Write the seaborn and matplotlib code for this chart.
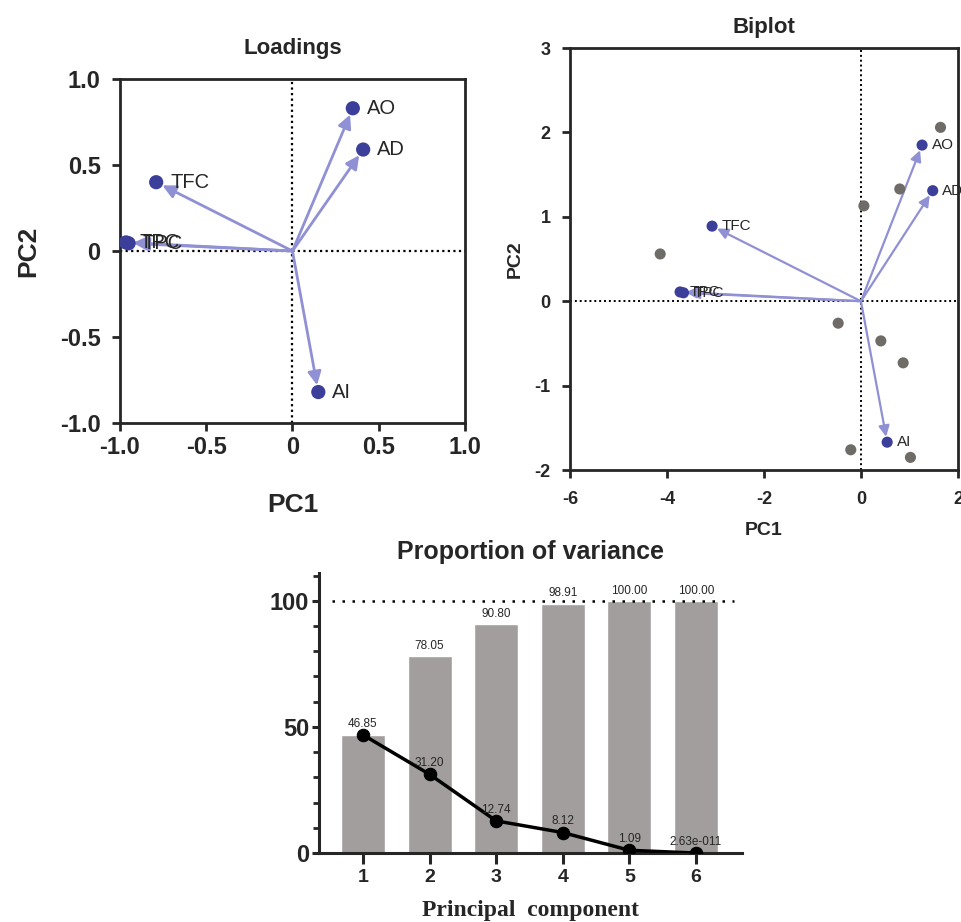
import numpy as np
import pandas as pd
import seaborn as sns
import matplotlib.pyplot as plt
from matplotlib.ticker import MultipleLocator

# variable loadings (PC1, PC2)
var_names = ["TFC", "TPC", "TPC", "AO", "AD", "AI"]
load_pc1 = [-0.79, -0.965, -0.95, 0.35, 0.41, 0.15]
load_pc2 = [0.40, 0.05, 0.045, 0.83, 0.59, -0.82]

# biplot: scaled variable vectors
bi_pc1 = [-3.07, -3.73, -3.66, 1.26, 1.48, 0.54]
bi_pc2 = [0.89, 0.11, 0.10, 1.85, 1.31, -1.67]

# biplot: sample scores
score_pc1 = [1.64, 0.80, 0.06, -4.14, -0.47, 0.41, 0.87, -0.21, 1.02]
score_pc2 = [2.06, 1.33, 1.13, 0.56, -0.26, -0.47, -0.73, -1.76, -1.85]

# proportion of variance
components = [1, 2, 3, 4, 5, 6]
cumulative = [46.85, 78.05, 90.80, 98.91, 100.00, 100.00]
individual = [46.85, 31.20, 12.74, 8.12, 1.09, 2.63e-11]

sns.set_style("ticks")
plt.rcParams['font.family'] = ['Liberation Sans', 'DejaVu Sans']
plt.rcParams['axes.unicode_minus'] = False

point_col = "#3b3f9a"
arrow_col = "#9090d4"
score_col = "#6f6b67"
bar_col = "#a39e9e"


def fmt_label(v):
    if v < 0.01:
        m, e = f"{v:.2e}".split("e")
        return f"{m}e{int(e):04d}"
    return f"{v:.2f}"


def style_box(ax, lw):
    for s in ax.spines.values():
        s.set_linewidth(lw)
        s.set_visible(True)
    ax.tick_params(width=lw, length=6, direction="out")


fig = plt.figure(figsize=(9.62, 9.22), dpi=100)

# ---------------- Loadings ----------------
ax1 = fig.add_axes([0.1247, 0.5412, 0.3586, 0.3731])
df_load = pd.DataFrame({"PC1": load_pc1, "PC2": load_pc2, "var": var_names})
ax1.axhline(0, color="black", ls=(0, (1, 1.5)), lw=1.6, zorder=1)
ax1.axvline(0, color="black", ls=(0, (1, 1.5)), lw=1.6, zorder=1)
sns.scatterplot(data=df_load, x="PC1", y="PC2", ax=ax1, color=point_col,
                s=105, edgecolor="none", zorder=3)
for _, r in df_load.iterrows():
    ax1.annotate("", xy=(r.PC1, r.PC2), xytext=(0, 0),
                 arrowprops=dict(arrowstyle="-|>", color=arrow_col, lw=2,
                                 shrinkA=0, shrinkB=5, mutation_scale=20),
                 zorder=2)
    ax1.annotate(r["var"], (r.PC1, r.PC2), xytext=(10, 0),
                 textcoords="offset points", ha="left", va="center",
                 fontsize=14.5, zorder=4)
ax1.set_xlim(-1, 1)
ax1.set_ylim(-1, 1)
ticks = [-1.0, -0.5, 0, 0.5, 1.0]
tick_lbl = ["-1.0", "-0.5", "0", "0.5", "1.0"]
ax1.set_xticks(ticks, tick_lbl)
ax1.set_yticks(ticks, tick_lbl)
style_box(ax1, 2)
ax1.tick_params(axis="y", pad=8)
for t in ax1.get_xticklabels() + ax1.get_yticklabels():
    t.set_fontsize(17)
    t.set_fontweight("bold")
ax1.set_xlabel("PC1", fontsize=19, fontweight="bold", labelpad=24)
ax1.set_ylabel("PC2", fontsize=19, fontweight="bold", labelpad=14)
ax1.set_title("Loadings", fontsize=16, fontweight="bold", pad=18)

# ---------------- Biplot ----------------
ax2 = fig.add_axes([0.5925, 0.4902, 0.4033, 0.4577])
df_bi = pd.DataFrame({"PC1": bi_pc1, "PC2": bi_pc2, "var": var_names})
df_sc = pd.DataFrame({"PC1": score_pc1, "PC2": score_pc2})
ax2.axhline(0, color="black", ls=(0, (1, 1.5)), lw=1.4, zorder=1)
ax2.axvline(0, color="black", ls=(0, (1, 1.5)), lw=1.4, zorder=1)
sns.scatterplot(data=df_sc, x="PC1", y="PC2", ax=ax2, color=score_col,
                s=64, edgecolor="none", zorder=3)
sns.scatterplot(data=df_bi, x="PC1", y="PC2", ax=ax2, color=point_col,
                s=64, edgecolor="none", zorder=3)
for _, r in df_bi.iterrows():
    ax2.annotate("", xy=(r.PC1, r.PC2), xytext=(0, 0),
                 arrowprops=dict(arrowstyle="-|>", color=arrow_col, lw=1.6,
                                 shrinkA=0, shrinkB=4, mutation_scale=16),
                 zorder=2)
    ax2.annotate(r["var"], (r.PC1, r.PC2), xytext=(7, 0),
                 textcoords="offset points", ha="left", va="center",
                 fontsize=11, zorder=4)
ax2.set_xlim(-6, 2)
ax2.set_ylim(-2, 3)
ax2.set_xticks([-6, -4, -2, 0, 2])
ax2.set_yticks([-2, -1, 0, 1, 2, 3])
style_box(ax2, 2)
ax2.tick_params(axis="y", pad=8)
ax2.tick_params(axis="x", pad=9)
for t in ax2.get_xticklabels() + ax2.get_yticklabels():
    t.set_fontsize(13)
    t.set_fontweight("bold")
ax2.set_xlabel("PC1", fontsize=14, fontweight="bold", labelpad=10)
ax2.set_ylabel("PC2", fontsize=14, fontweight="bold", labelpad=8)
ax2.set_title("Biplot", fontsize=16, fontweight="bold", pad=11)

# ---------------- Proportion of variance ----------------
ax3 = fig.add_axes([0.3316, 0.0748, 0.4397, 0.3037])
df_var = pd.DataFrame({"pc": components, "cum": cumulative, "ind": individual})
sns.barplot(data=df_var, x="pc", y="cum", native_scale=True, width=0.66,
            color=bar_col, saturation=1, ax=ax3, zorder=1)
# cumulative labels; where it equals the individual value only one label shows
bar_txt = ["" if c == i else f"{c:.2f}" for c, i in zip(cumulative, individual)]
ax3.bar_label(ax3.containers[0], labels=bar_txt, fontsize=8.5, padding=3)
ax3.axhline(100, xmin=0.03, xmax=0.98, color="black", ls=(0, (1, 3)),
            lw=1.8, zorder=2)
sns.lineplot(data=df_var, x="pc", y="ind", ax=ax3, color="black", lw=2.5,
             marker="o", markersize=9, markeredgecolor="black", zorder=3)
for x, v in zip(components, individual):
    ax3.annotate(fmt_label(v), (x, v), xytext=(0, 8),
                 textcoords="offset points", ha="center", va="center",
                 fontsize=8.5, zorder=4)
ax3.set_xlim(0.34, 6.69)
ax3.set_ylim(0, 111)
ax3.set_xticks(components)
ax3.set_yticks([0, 50, 100])
ax3.yaxis.set_minor_locator(MultipleLocator(10))
sns.despine(ax=ax3)
for s in ax3.spines.values():
    s.set_linewidth(2.2)
ax3.tick_params(axis="x", which="major", width=2.2, length=8)
ax3.tick_params(axis="y", which="major", width=2.2, length=5, pad=2)
ax3.tick_params(axis="y", which="minor", width=2, length=4)
for t in ax3.get_yticklabels():
    t.set_fontsize(17)
    t.set_fontweight("bold")
for t in ax3.get_xticklabels():
    t.set_fontsize(14)
    t.set_fontweight("bold")
ax3.set_xlabel("Principal  component", fontsize=17, fontweight="bold",
               family=["Liberation Serif", "DejaVu Serif"], labelpad=10)
ax3.set_ylabel("")
ax3.set_title("Proportion of variance", fontsize=18, fontweight="bold", pad=10)

fig.savefig("out.png", dpi=100)
